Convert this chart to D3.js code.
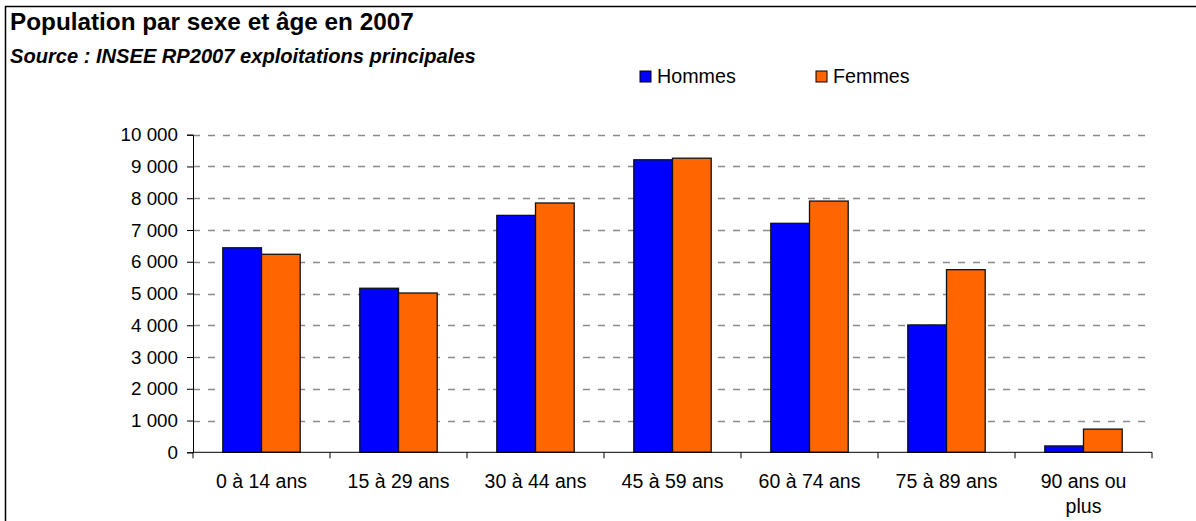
<!DOCTYPE html>
<html lang="fr">
<head>
<meta charset="utf-8">
<script src="https://cdn.jsdelivr.net/npm/d3@7"></script>
<style>
  body { margin: 0; background: #fff; }
  text { font-family: Arial, "Liberation Sans", sans-serif; fill: #000; }
</style>
</head>
<body>
<div id="chart"></div>
<script>
  let categories = ['0 à 14 ans', '15 à 29 ans', '30 à 44 ans', '45 à 59 ans',
                    '60 à 74 ans', '75 à 89 ans', '90 ans ou plus'];
  let hommes = [6440, 5165, 7460, 9210, 7210, 4010, 200];
  let femmes = [6235, 5015, 7850, 9260, 7910, 5750, 730];
  let series = ['Hommes', 'Femmes'];
  let colors = ['#0000ff', '#ff6600'];
  let yTicks = [0, 1000, 2000, 3000, 4000, 5000, 6000, 7000, 8000, 9000, 10000];

  let width = 1196, height = 521;
  let svg = d3.select('#chart').append('svg')
    .attr('width', width)
    .attr('height', height)

  // outer frame (only top/left visible in the crop)
  svg.append('rect')
    .attr('x', 5.5).attr('y', 6.5)
    .attr('width', width + 10).attr('height', height + 10)
    .attr('fill', 'none').attr('stroke', '#000').attr('stroke-width', 1.5)

  svg.append('text')
    .attr('x', 10).attr('y', 30)
    .attr('font-size', '24.3px').attr('font-weight', 'bold')
    .text('Population par sexe et âge en 2007')
  svg.append('text')
    .attr('x', 10).attr('y', 63)
    .attr('font-size', '20.1px').attr('font-weight', 'bold').attr('font-style', 'italic')
    .text('Source : INSEE RP2007 exploitations principales')

  let plotLeft = 193, plotRight = 1152, plotTop = 134.7, plotBottom = 452.3;

  let x = d3.scaleBand()
    .domain(categories)
    .range([plotLeft, plotRight])
    .paddingInner(0.435)
    .paddingOuter(0.2175)
  let xs = d3.scaleBand()
    .domain(series)
    .range([0, x.bandwidth()])
  let y = d3.scaleLinear()
    .domain([0, 10000])
    .range([plotBottom, plotTop])

  // grid
  svg.append('g')
    .selectAll('line')
    .data(yTicks.filter(d => d > 0))
    .enter()
    .append('line')
    .attr('x1', plotLeft).attr('x2', plotRight)
    .attr('y1', d => Math.round(y(d)) + 0.5).attr('y2', d => Math.round(y(d)) + 0.5)
    .attr('stroke', '#8a8a8a').attr('stroke-width', 1.3).attr('stroke-dasharray', '7,8')

  // bars
  let data = [];
  categories.forEach((c, i) => {
    data.push({ cat: c, s: 'Hommes', v: hommes[i], col: colors[0] });
    data.push({ cat: c, s: 'Femmes', v: femmes[i], col: colors[1] });
  });
  svg.append('g')
    .selectAll('rect')
    .data(data)
    .enter()
    .append('rect')
    .attr('x', d => x(d.cat) + xs(d.s))
    .attr('y', d => y(d.v))
    .attr('width', xs.bandwidth())
    .attr('height', d => plotBottom - y(d.v))
    .attr('fill', d => d.col)
    .attr('stroke', '#111').attr('stroke-width', 1.3)

  // y axis
  let yAxis = svg.append('g')
    .attr('transform', `translate(${plotLeft},0)`)
    .call(d3.axisLeft(y).tickValues(yTicks).tickSize(6).tickPadding(9)
      .tickFormat(d => d3.format(',')(d).replace(/,/g, ' ')))
  yAxis.select('.domain').attr('stroke', '#000')
  yAxis.selectAll('.tick line').attr('stroke', '#000')
  yAxis.selectAll('text').attr('font-size', '18.8px').attr('font-family', 'Arial, "Liberation Sans", sans-serif')

  // x axis
  let xAxis = svg.append('g')
    .attr('transform', `translate(0,${plotBottom})`)
  xAxis.append('line')
    .attr('x1', plotLeft).attr('x2', plotRight).attr('stroke', '#000')
  xAxis.selectAll('.tk')
    .data(d3.range(categories.length + 1))
    .enter()
    .append('line')
    .attr('x1', i => plotLeft + i * (plotRight - plotLeft) / categories.length)
    .attr('x2', i => plotLeft + i * (plotRight - plotLeft) / categories.length)
    .attr('y1', 0).attr('y2', 6).attr('stroke', '#000')
  xAxis.selectAll('.lbl')
    .data(categories)
    .enter()
    .append('text')
    .attr('text-anchor', 'middle')
    .attr('font-size', '19.5px')
    .attr('transform', d => `translate(${x(d) + x.bandwidth() / 2},36)`)
    .each(function (d) {
      let parts = d === '90 ans ou plus' ? ['90 ans ou', 'plus'] : [d];
      d3.select(this).selectAll('tspan')
        .data(parts)
        .enter()
        .append('tspan')
        .attr('x', 0)
        .attr('dy', (p, i) => i === 0 ? 0 : 25)
        .text(p => p)
    })

  // legend
  let legX = [640, 816];
  let leg = svg.append('g')
  series.forEach((s, i) => {
    leg.append('rect')
      .attr('x', legX[i]).attr('y', 71)
      .attr('width', 11).attr('height', 11)
      .attr('fill', colors[i]).attr('stroke', '#000')
    leg.append('text')
      .attr('x', legX[i] + 17).attr('y', 83)
      .attr('font-size', '19.7px')
      .text(s)
  });
</script>
</body>
</html>
